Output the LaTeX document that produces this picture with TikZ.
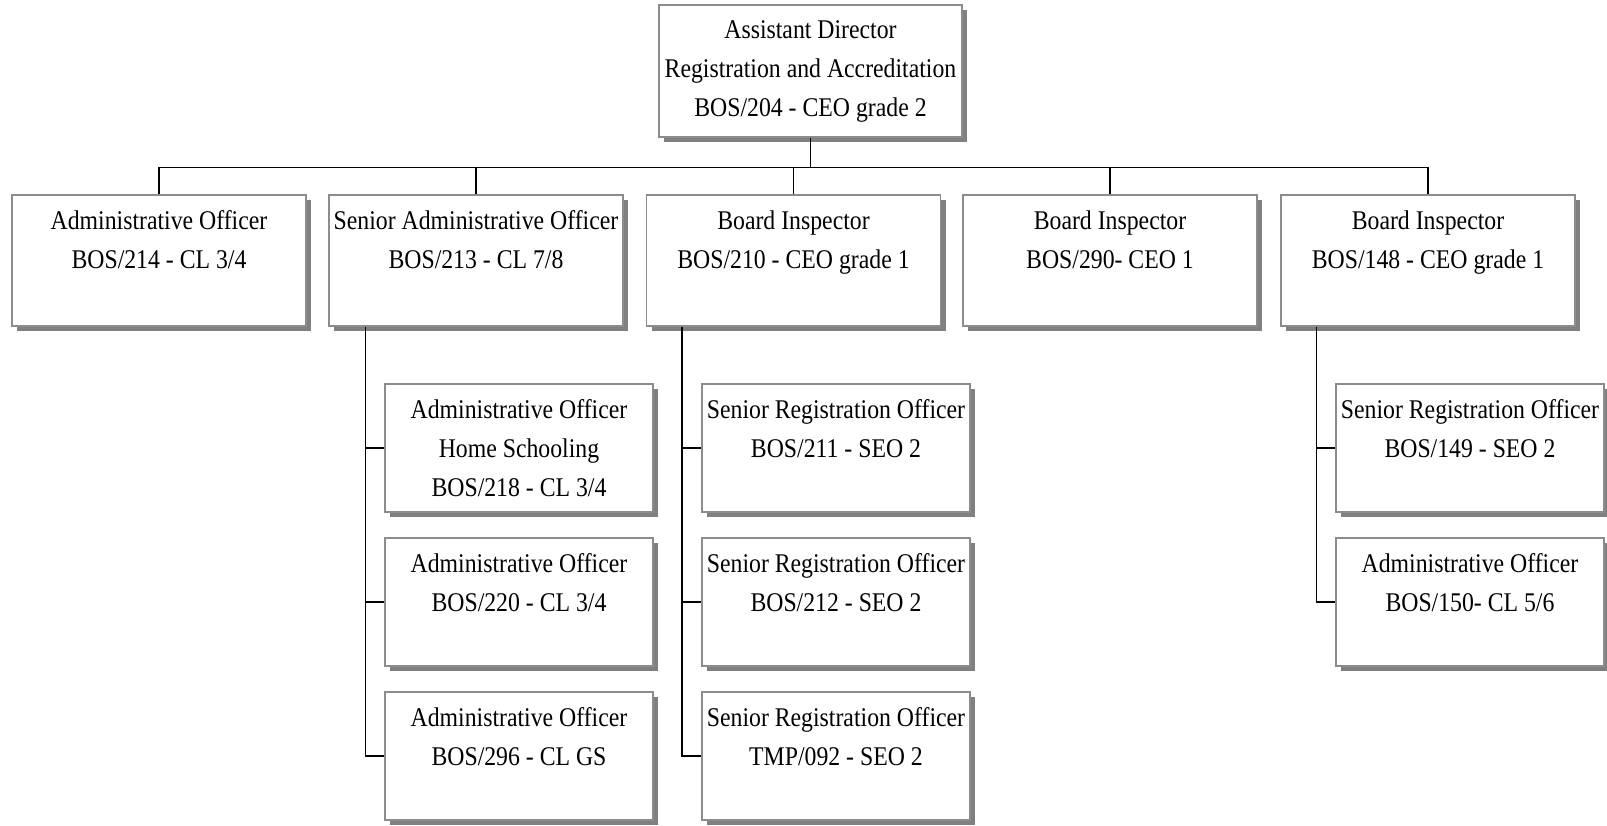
\documentclass[tikz,border=0pt]{standalone}
\usepackage{fontspec}
\setmainfont{Liberation Serif}[FakeStretch=0.88]
\usetikzlibrary{shadows,calc}
\definecolor{bordergray}{RGB}{140,140,140}
\definecolor{shadowgray}{RGB}{128,128,128}
\begin{document}
\begin{tikzpicture}[x=1pt,y=-1pt,
  orgbox/.style={draw=bordergray, line width=1.5pt, fill=white, inner sep=0pt,
    drop shadow={shadow xshift=5pt, shadow yshift=-5pt, fill=shadowgray, opacity=1}},
  topbox/.style={orgbox, minimum width=303pt, minimum height=132pt},
  lonebox/.style={orgbox, minimum width=294pt, minimum height=131pt},
  kidbox/.style={orgbox, minimum width=268pt, minimum height=128pt},
  lbl/.style={anchor=north, align=center, inner sep=0pt, font=\fontsize{27}{39}\selectfont},
  wire/.style={draw=black, line width=1.5pt}]
\useasboundingbox (0,0) rectangle (1607,826);

% top
\node[topbox] (top) at (810.5,71) {};
\node[lbl] (topt) at ($(top.north)+(0,16)$) {Assistant Director\\Registration and Accreditation\\BOS/204 - CEO grade 2};

% level 1
\node[lonebox] (b1) at (159,260.5) {};
\node[lonebox] (b2) at (476,260.5) {};
\node[lonebox] (b3) at (793.5,260.5) {};
\node[lonebox] (b4) at (1110,260.5) {};
\node[lonebox] (b5) at (1428,260.5) {};
\node[lbl] (b1t) at ($(b1.north)+(0,16)$) {Administrative Officer\\BOS/214 - CL 3/4};
\node[lbl] (b2t) at ($(b2.north)+(0,16)$) {Senior Administrative Officer\\BOS/213 - CL 7/8};
\node[lbl] (b3t) at ($(b3.north)+(0,16)$) {Board Inspector\\BOS/210 - CEO grade 1};
\node[lbl] (b4t) at ($(b4.north)+(0,16)$) {Board Inspector\\BOS/290- CEO 1};
\node[lbl] (b5t) at ($(b5.north)+(0,16)$) {Board Inspector\\BOS/148 - CEO grade 1};

% children of b2
\node[kidbox] (c21) at (519,448) {};
\node[kidbox] (c22) at (519,602) {};
\node[kidbox] (c23) at (519,756) {};
\node[lbl] (c21t) at ($(c21.north)+(0,16)$) {Administrative Officer\\Home Schooling\\BOS/218 - CL 3/4};
\node[lbl] (c22t) at ($(c22.north)+(0,16)$) {Administrative Officer\\BOS/220 - CL 3/4};
\node[lbl] (c23t) at ($(c23.north)+(0,16)$) {Administrative Officer\\BOS/296 - CL GS};

% children of b3
\node[kidbox] (c31) at (836,448) {};
\node[kidbox] (c32) at (836,602) {};
\node[kidbox] (c33) at (836,756) {};
\node[lbl] (c31t) at ($(c31.north)+(0,16)$) {Senior Registration Officer\\BOS/211 - SEO 2};
\node[lbl] (c32t) at ($(c32.north)+(0,16)$) {Senior Registration Officer\\BOS/212 - SEO 2};
\node[lbl] (c33t) at ($(c33.north)+(0,16)$) {Senior Registration Officer\\TMP/092 - SEO 2};

% children of b5
\node[kidbox] (c51) at (1470,448) {};
\node[kidbox] (c52) at (1470,602) {};
\node[lbl] (c51t) at ($(c51.north)+(0,16)$) {Senior Registration Officer\\BOS/149 - SEO 2};
\node[lbl] (c52t) at ($(c52.north)+(0,16)$) {Administrative Officer\\BOS/150- CL 5/6};

% connectors
\foreach \b in {b1,b2,b3,b4,b5}
  \draw[wire] (top.south) -- ++(0,30) -| (\b.north);

\draw[wire] ([xshift=37pt]b2.south west) |- (c23.west);
\draw[wire] ([xshift=37pt]b2.south west) |- (c21.west);
\draw[wire] ([xshift=37pt]b2.south west) |- (c22.west);

\draw[wire] ([xshift=36pt]b3.south west) |- (c33.west);
\draw[wire] ([xshift=36pt]b3.south west) |- (c31.west);
\draw[wire] ([xshift=36pt]b3.south west) |- (c32.west);

\draw[wire] ([xshift=36pt]b5.south west) |- (c52.west);
\draw[wire] ([xshift=36pt]b5.south west) |- (c51.west);
\end{tikzpicture}
\end{document}
